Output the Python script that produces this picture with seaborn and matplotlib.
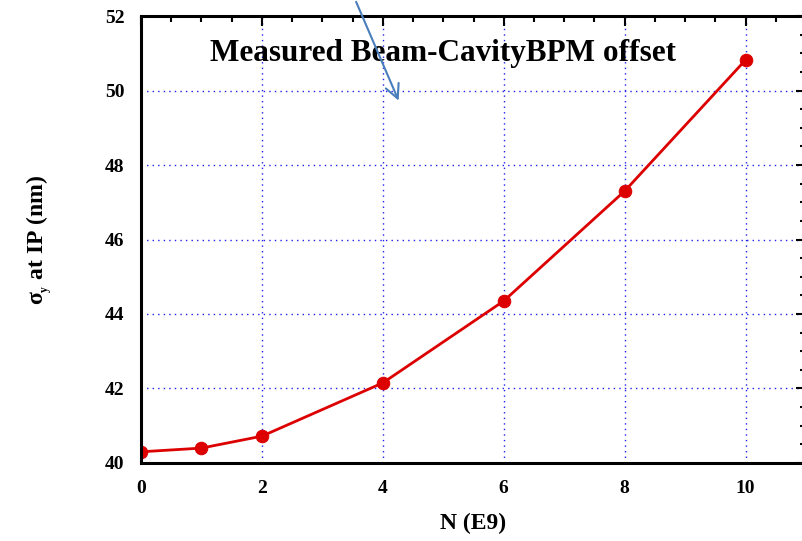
import numpy as np
import pandas as pd
import matplotlib.pyplot as plt
import seaborn as sns
from matplotlib.ticker import MultipleLocator

# dados
n_e9 = [0, 1, 2, 4, 6, 8, 10]
sigma_y = [40.30, 40.40, 40.72, 42.15, 44.35, 47.30, 50.82]

df = pd.DataFrame({'N': n_e9, 'sigma': sigma_y})

sns.set_style('white')
plt.rcParams['font.family'] = ['Liberation Serif', 'DejaVu Serif']
plt.rcParams['font.weight'] = 'bold'
plt.rcParams['text.color'] = 'black'
plt.rcParams['axes.labelcolor'] = 'black'
plt.rcParams['xtick.color'] = 'black'
plt.rcParams['ytick.color'] = 'black'
plt.rcParams['mathtext.fontset'] = 'custom'
plt.rcParams['mathtext.rm'] = 'Liberation Serif:bold'
plt.rcParams['mathtext.bf'] = 'Liberation Serif:bold'
plt.rcParams['mathtext.it'] = 'Liberation Serif:bold'

fig = plt.figure(figsize=(8.02, 5.41), dpi=100)
ax = fig.add_axes([0.1758, 0.1442, 0.8292, 0.8262])

sns.lineplot(x='N', y='sigma', data=df, color='#dd0000', linewidth=2,
             marker='o', markersize=9, markeredgecolor='#dd0000', ax=ax)

ax.set_xlim(0, 11)
ax.set_ylim(40, 52)
ax.xaxis.set_major_locator(MultipleLocator(2))
ax.xaxis.set_minor_locator(MultipleLocator(0.5))
ax.yaxis.set_major_locator(MultipleLocator(2))
ax.yaxis.set_minor_locator(MultipleLocator(0.5))
ax.tick_params(which='both', direction='in', top=True, right=True, width=1.5)
ax.tick_params(which='major', length=7, labelsize=14, pad=12)
ax.tick_params(which='minor', length=4)
for lbl in ax.get_xticklabels() + ax.get_yticklabels():
    lbl.set_fontweight('bold')
for sp in ax.spines.values():
    sp.set_linewidth(2.2)
    sp.set_color('black')

ax.grid(True, which='major', color='#2020ee', linestyle=(0, (1, 3)), linewidth=1)

ax.set_xlabel('N (E9)', fontsize=17, fontweight='bold', labelpad=12)
ax.set_ylabel(r'$\sigma_{_{y}}$ at IP (nm)', fontsize=17, fontweight='bold', labelpad=36)

ax.text(5.0, 51.0, 'Measured Beam-CavityBPM offset', fontsize=22.5, fontweight='bold',
        ha='center', va='center')

ax.annotate('', xy=(4.28, 49.66), xytext=(3.54, 52.45), annotation_clip=False,
            arrowprops=dict(arrowstyle='->', color='#4a7ebb', lw=1.5, mutation_scale=25))

fig.savefig('out.png', dpi=100)
